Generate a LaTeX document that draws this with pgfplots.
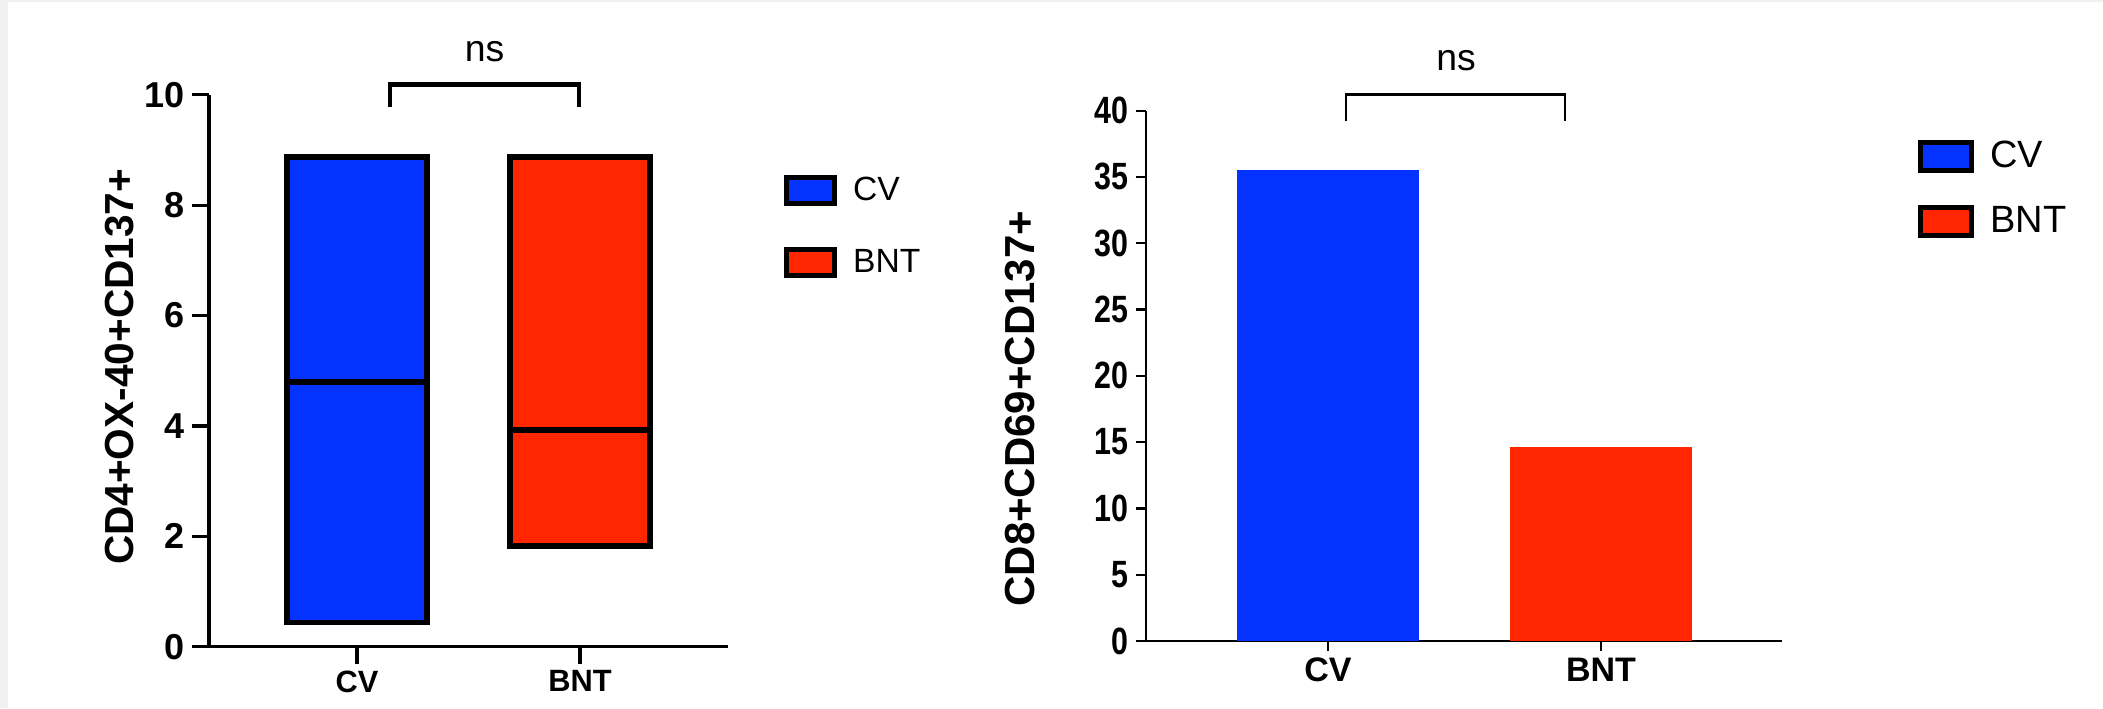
\documentclass[border=0pt]{standalone}
\usepackage{fontspec}
\setmainfont{Liberation Sans}
\usepackage{graphicx}
\usepackage{pgfplots}
\pgfplotsset{compat=1.18}
\usepgfplotslibrary{statistics}

\definecolor{cvblue}{RGB}{4,51,255}
\definecolor{bntred}{RGB}{255,38,0}

\pgfplotsset{
  boxleg/.style={legend image code/.code={\draw[##1] (0pt,-6.5pt) rectangle (24pt,6.5pt);}},
  boxlegb/.style={legend image code/.code={\draw[##1] (0pt,-7pt) rectangle (25.5pt,7pt);}},
}

\begin{document}
\begin{tikzpicture}
% page frame (1 px = 0.5 pt)
\path (0,0) rectangle (1051.5pt,354pt);
\fill[gray!12] (0,0) rectangle (4pt,354pt);
\fill[gray!12] (0,353pt) rectangle (1051.5pt,354pt);

% left panel: floating bars (min to max, line at mean)
\begin{axis}[
  at={(104.5pt,30.65pt)}, anchor=south west,
  scale only axis, width=259.5pt, height=275.95pt,
  xmin=-0.664, xmax=1.664, ymin=0, ymax=10,
  axis lines=left, axis line style={-, line width=1.6pt},
  xtick={0,1}, xticklabels={CV,BNT}, ytick={0,2,...,10},
  tick align=outside, major tick length=8.5pt,
  tick style={line width=1.6pt, black},
  /pgf/number format/assume math mode=true,
  ticklabel style={font=\bfseries\fontsize{15.4}{16}\selectfont},
  yticklabel style={font=\bfseries\fontsize{18}{19}\selectfont},
  ylabel={CD4+OX-40+CD137+},
  every axis y label/.style={at={(axis description cs:-0.1715,0.507)}, rotate=90, anchor=center,
    font=\bfseries\fontsize{20.3}{22}\selectfont},
  clip=false,
  boxplot/draw direction=y,
  legend style={draw=none, fill=none, at={(1.096,0.866)}, anchor=north west,
    font=\fontsize{16.8}{18}\selectfont, row sep=19pt, column sep=6pt},
  legend cell align=left,
]
\addplot[boxplot prepared={draw position=0, median=4.79, lower quartile=0.44,
    upper quartile=8.87, lower whisker=0.44, upper whisker=8.87, box extend=0.628},
  fill=cvblue, draw=black, line width=2.9pt, forget plot] coordinates {};
\addplot[boxplot prepared={draw position=1, median=3.92, lower quartile=1.83,
    upper quartile=8.87, lower whisker=1.83, upper whisker=8.87, box extend=0.628},
  fill=bntred, draw=black, line width=2.9pt, forget plot] coordinates {};
% mean lines
\addplot[black, line width=2.6pt, forget plot] coordinates {(-0.314,4.79) (0.314,4.79)};
\addplot[black, line width=2.6pt, forget plot] coordinates {(0.686,3.92) (1.314,3.92)};
\addlegendimage{boxleg, fill=cvblue, draw=black, line width=2.5pt}
\addlegendentry{CV}
\addlegendimage{boxleg, fill=bntred, draw=black, line width=2.5pt}
\addlegendentry{BNT}
\draw[line width=2.2pt] (axis cs:0.148,9.78) -- (axis cs:0.148,10.19) -- (axis cs:0.996,10.19) -- (axis cs:0.996,9.78);
\node[font=\fontsize{18.7}{20}\selectfont] at (axis cs:0.572,10.79) {ns};
\end{axis}

% right panel: bars
\begin{axis}[
  at={(572.8pt,33.5pt)}, anchor=south west,
  scale only axis, width=318.2pt, height=265.2pt,
  xmin=-0.668, xmax=1.663, ymin=0, ymax=40,
  axis lines=left, axis line style={-, line width=1.1pt},
  xtick={0,1}, xticklabels={CV,BNT}, ytick={0,5,...,40},
  tick align=outside, major tick length=5pt,
  tick style={line width=1.1pt, black},
  /pgf/number format/assume math mode=true,
  ticklabel style={font=\bfseries\fontsize{19}{20}\selectfont},
  yticklabel={\scalebox{0.8}[1]{\pgfmathprintnumber{\tick}}},
  xticklabel style={font=\bfseries\fontsize{17}{18}\selectfont},
  ylabel={CD8+CD69+CD137+},
  every axis y label/.style={at={(axis description cs:-0.197,0.438)}, rotate=90, anchor=center,
    font=\bfseries\fontsize{21}{22}\selectfont},
  clip=false,
  legend style={draw=none, fill=none, at={(1.204,0.958)}, anchor=north west,
    font=\fontsize{19}{20}\selectfont, row sep=14pt, column sep=6pt},
  legend cell align=left,
]
\addplot[ybar, bar width=0.667, bar shift=0pt, fill=cvblue, draw=none, forget plot]
  coordinates {(0,35.5)};
\addplot[ybar, bar width=0.667, bar shift=0pt, fill=bntred, draw=none, forget plot]
  coordinates {(1,14.6)};
\addlegendimage{boxlegb, fill=cvblue, draw=black, line width=2.5pt}
\addlegendentry{CV}
\addlegendimage{boxlegb, fill=bntred, draw=black, line width=2.5pt}
\addlegendentry{BNT}
\draw[line width=1.4pt] (axis cs:0.066,39.25) -- (axis cs:0.066,41.2) -- (axis cs:0.868,41.2) -- (axis cs:0.868,39.25);
\node[font=\fontsize{18.7}{20}\selectfont] at (axis cs:0.469,43.8) {ns};
\end{axis}
\end{tikzpicture}
\end{document}
